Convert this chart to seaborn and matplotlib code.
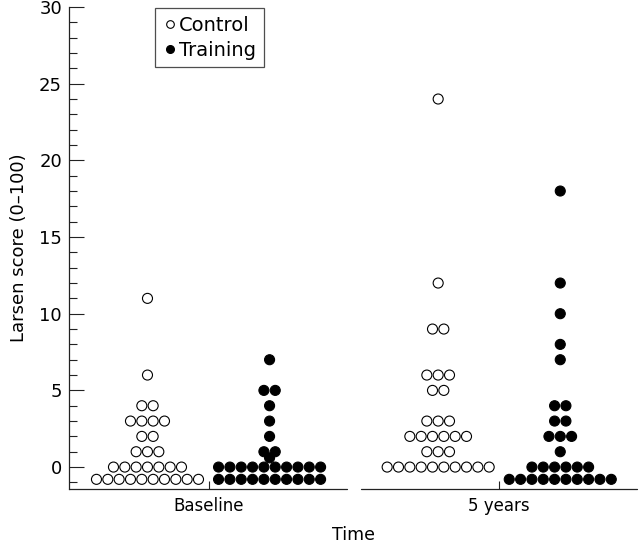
import numpy as np
import pandas as pd
import seaborn as sns
import matplotlib.pyplot as plt
from matplotlib.lines import Line2D
from matplotlib.ticker import MultipleLocator

# Categories
times = ['Baseline', '5 years']
groups = ['Control', 'Training']

# Dot rows: y-level of each row and number of dots in it
# (the bottom row is drawn just below 0 in the original)
base_ctrl_levels = [11, 6, 4, 3, 2, 1, 0, -0.8]
base_ctrl_counts = [1, 1, 2, 4, 2, 3, 7, 10]
base_train_levels = [7, 5, 4, 3, 2, 1, 0.6, 0, -0.8]
base_train_counts = [1, 2, 1, 1, 1, 2, 1, 10, 10]
yr5_ctrl_levels = [24, 12, 9, 6, 5, 3, 2, 1, 0]
yr5_ctrl_counts = [1, 1, 2, 3, 2, 3, 6, 3, 10]
yr5_train_levels = [18, 12, 10, 8, 7, 4, 3, 2, 1, 0, -0.8]
yr5_train_counts = [1, 1, 1, 1, 1, 2, 2, 3, 1, 6, 10]

#---------------------------------------------------------------------------------------------#

# Build a long table, spreading dots of the same row side by side
dodge = 0.21
spacing = 0.039
series = [
    ('Baseline', 'Control', base_ctrl_levels, base_ctrl_counts),
    ('Baseline', 'Training', base_train_levels, base_train_counts),
    ('5 years', 'Control', yr5_ctrl_levels, yr5_ctrl_counts),
    ('5 years', 'Training', yr5_train_levels, yr5_train_counts),
]
rows = []
for time, group, levels, counts in series:
    centre = times.index(time) + (-dodge if group == 'Control' else dodge)
    for level, n in zip(levels, counts):
        for k in range(n):
            rows.append({'time': time, 'group': group, 'score': level,
                         'x': centre + (k - (n - 1) / 2) * spacing})
df = pd.DataFrame(rows)

#---------------------------------------------------------------------------------------------#

sns.set_style('ticks')
plt.rcParams['font.family'] = ['DejaVu Sans']
plt.rcParams['text.color'] = 'black'
plt.rcParams['axes.labelcolor'] = 'black'
plt.rcParams['xtick.labelcolor'] = 'black'
plt.rcParams['ytick.labelcolor'] = 'black'

fig = plt.figure(figsize=(6.4, 5.43), dpi=100)
ax = fig.add_axes([69 / 640, 1 - 489 / 543, 568 / 640, 482 / 543])

sns.scatterplot(data=df, x='x', y='score', hue='group',
                palette={'Control': 'white', 'Training': 'black'},
                edgecolor='black', linewidth=0.8, s=52, legend=False,
                ax=ax, clip_on=False, zorder=3)

ax.set_xlim(-0.48, 1.474)
ax.set_ylim(-1.43, 30)

# Spines: left only, bottom axis drawn as two broken segments
ax.spines[['top', 'right', 'bottom']].set_visible(False)
ax.spines['left'].set_color('#222222')
ax.spines['left'].set_linewidth(0.9)
for a, b in [(-0.48, 0.478), (0.526, 1.474)]:
    ax.plot([a, b], [0, 0], transform=ax.get_xaxis_transform(),
            color='#222222', lw=0.9, clip_on=False)

ax.set_xticks([0, 1], times)
ax.set_yticks(range(0, 31, 5))
ax.yaxis.set_minor_locator(MultipleLocator(1))
ax.tick_params(axis='x', direction='in', length=6, width=0.8, color='#222222',
               labelsize=12, pad=6)
ax.tick_params(axis='y', which='major', direction='in', length=11, width=0.8,
               color='#222222', labelsize=13, pad=5)
ax.tick_params(axis='y', which='minor', direction='in', length=5.5, width=0.8,
               color='#222222')

ax.set_xlabel('Time', fontsize=12.5, labelpad=8)
ax.set_ylabel('Larsen score (0\u2013100)', fontsize=13, labelpad=8)

handles = [
    Line2D([], [], marker='o', ls='', markerfacecolor='white', markeredgecolor='black',
           markeredgewidth=0.8, markersize=5.5, label='Control'),
    Line2D([], [], marker='o', ls='', markerfacecolor='black', markeredgecolor='black',
           markersize=5.5, label='Training'),
]
leg = ax.legend(handles=handles, loc='upper left', bbox_to_anchor=(0.151, 0.998),
                borderaxespad=0, frameon=True, fancybox=False, fontsize=14,
                handletextpad=0.05, handlelength=0.8, labelspacing=0.3,
                borderpad=0.4)
leg.get_frame().set_edgecolor('#222222')
leg.get_frame().set_linewidth(0.9)

fig.savefig('out.png', dpi=100)
